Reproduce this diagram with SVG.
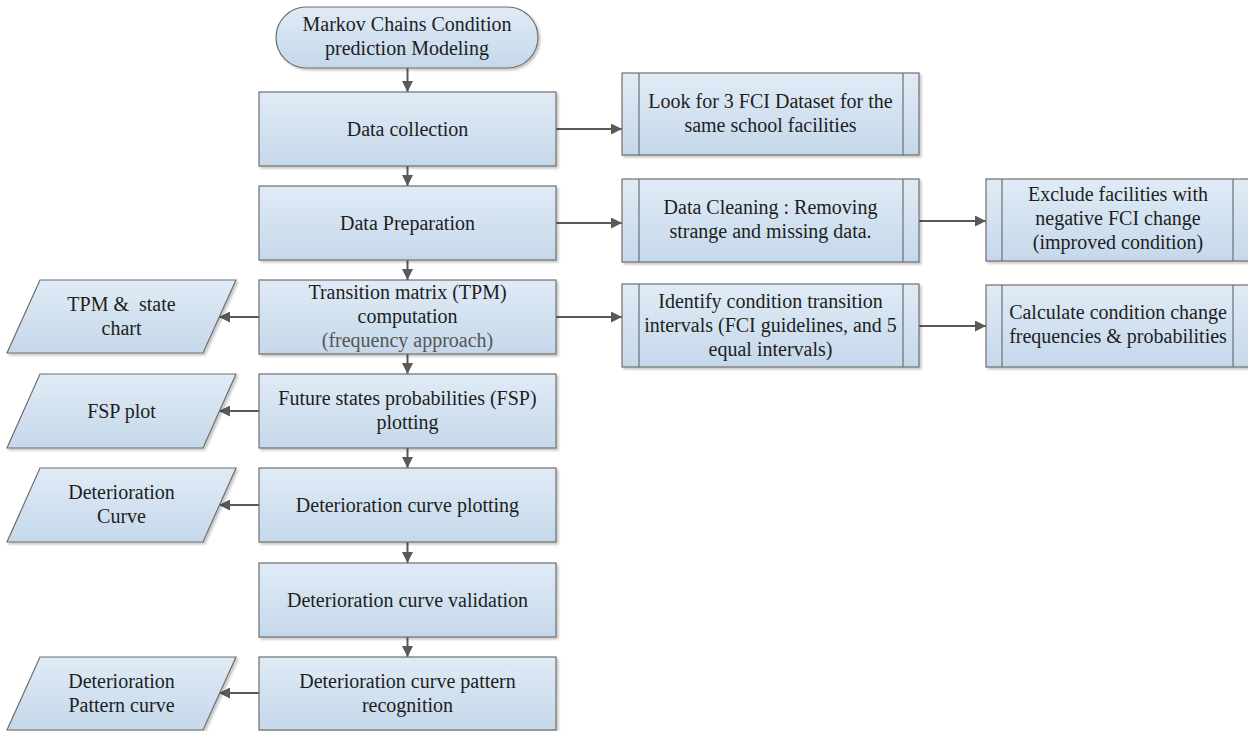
<svg xmlns="http://www.w3.org/2000/svg" width="1248" height="731" viewBox="0 0 1248 731">
<style>
.shape{fill:url(#g);stroke:#6e6e6e;stroke-width:1.2;filter:url(#sh)}
.inner{stroke:#6e6e6e;stroke-width:1.2;fill:none}
text{font-family:'Liberation Serif','Times New Roman','DejaVu Serif',serif;font-size:20px;fill:#1e1e1e;text-anchor:middle}
.grey{fill:#555555}
.c{stroke:#595959;stroke-width:2;fill:none;marker-end:url(#ah)}
</style>
<defs>
<linearGradient id="g" x1="0" y1="0" x2="0" y2="1">
<stop offset="0" stop-color="#e0ebf6"/>
<stop offset="1" stop-color="#c5d8ea"/>
</linearGradient>
<filter id="sh" x="-5%" y="-5%" width="115%" height="130%">
<feDropShadow dx="2" dy="2" stdDeviation="1" flood-color="#000" flood-opacity="0.22"/>
</filter>
<marker id="ah" viewBox="0 0 10 10" refX="10" refY="5" markerWidth="5.5" markerHeight="5.5" markerUnits="strokeWidth" orient="auto">
<path d="M0,0 L10,5 L0,10 z" fill="#595959"/>
</marker>
</defs>
<rect width="1248" height="731" fill="#ffffff"/>

<g id="connectors">
<line class="c" x1="407.5" y1="68" x2="407.5" y2="92"/>
<line class="c" x1="407.5" y1="166" x2="407.5" y2="186"/>
<line class="c" x1="407.5" y1="260" x2="407.5" y2="280"/>
<line class="c" x1="407.5" y1="354" x2="407.5" y2="374"/>
<line class="c" x1="407.5" y1="448" x2="407.5" y2="468"/>
<line class="c" x1="407.5" y1="542" x2="407.5" y2="563"/>
<line class="c" x1="407.5" y1="637" x2="407.5" y2="657"/>
<line class="c" x1="556" y1="129" x2="622" y2="129"/>
<line class="c" x1="556" y1="223" x2="622" y2="223"/>
<line class="c" x1="556" y1="317" x2="622" y2="317"/>
<line class="c" x1="919" y1="221" x2="986" y2="221"/>
<line class="c" x1="919" y1="326" x2="986" y2="326"/>
<line class="c" x1="259" y1="317" x2="219" y2="317"/>
<line class="c" x1="259" y1="411" x2="219" y2="411"/>
<line class="c" x1="259" y1="505" x2="219" y2="505"/>
<line class="c" x1="259" y1="693" x2="219" y2="693"/>
</g>

<g font-family="'Liberation Serif', 'Times New Roman', serif" font-size="20" text-anchor="middle">
<g id="start">
<rect class="shape" x="276" y="7" width="262" height="61" rx="30.5" ry="30.5"/>
<text x="407" y="31">Markov Chains Condition</text>
<text x="407" y="55">prediction Modeling</text>
</g>

<g id="data-collection">
<rect class="shape" x="259" y="92" width="297" height="74"/>
<text x="407.5" y="136">Data collection</text>
</g>

<g id="data-preparation">
<rect class="shape" x="259" y="186" width="297" height="74"/>
<text x="407.5" y="230">Data Preparation</text>
</g>

<g id="tpm">
<rect class="shape" x="259" y="280" width="297" height="74"/>
<text x="407.5" y="299">Transition matrix (TPM)</text>
<text x="407.5" y="323">computation</text>
<text class="grey" x="407.5" y="347">(frequency approach)</text>
</g>

<g id="fsp">
<rect class="shape" x="259" y="374" width="297" height="74"/>
<text x="407.5" y="405">Future states probabilities (FSP)</text>
<text x="407.5" y="429">plotting</text>
</g>

<g id="det-plot">
<rect class="shape" x="259" y="468" width="297" height="74"/>
<text x="407.5" y="512">Deterioration curve plotting</text>
</g>

<g id="det-validation">
<rect class="shape" x="259" y="563" width="297" height="74"/>
<text x="407.5" y="607">Deterioration curve validation</text>
</g>

<g id="det-pattern">
<rect class="shape" x="259" y="657" width="297" height="73"/>
<text x="407.5" y="688">Deterioration curve pattern</text>
<text x="407.5" y="712">recognition</text>
</g>

<g id="out-tpm">
<polygon class="shape" points="40,280 236,280 203,353 7,353"/>
<text x="121.5" y="311" xml:space="preserve">TPM &amp;  state</text>
<text x="121.5" y="335">chart</text>
</g>

<g id="out-fsp">
<polygon class="shape" points="40,374 236,374 203,448 7,448"/>
<text x="121.5" y="418">FSP plot</text>
</g>

<g id="out-curve">
<polygon class="shape" points="40,468 236,468 203,542 7,542"/>
<text x="121.5" y="499">Deterioration</text>
<text x="121.5" y="523">Curve</text>
</g>

<g id="out-pattern">
<polygon class="shape" points="40,657 236,657 203,730 7,730"/>
<text x="121.5" y="688">Deterioration</text>
<text x="121.5" y="712">Pattern curve</text>
</g>

<g id="look-fci">
<rect class="shape" x="622" y="73" width="297" height="82"/>
<line class="inner" x1="639" y1="73" x2="639" y2="155"/>
<line class="inner" x1="903" y1="73" x2="903" y2="155"/>
<text x="770.5" y="108">Look for 3 FCI Dataset for the</text>
<text x="770.5" y="132">same school facilities</text>
</g>

<g id="data-cleaning">
<rect class="shape" x="622" y="179" width="297" height="83"/>
<line class="inner" x1="639" y1="179" x2="639" y2="262"/>
<line class="inner" x1="903" y1="179" x2="903" y2="262"/>
<text x="770.5" y="214">Data Cleaning : Removing</text>
<text x="770.5" y="238">strange and missing data.</text>
</g>

<g id="identify">
<rect class="shape" x="622" y="284" width="297" height="83"/>
<line class="inner" x1="639" y1="284" x2="639" y2="367"/>
<line class="inner" x1="903" y1="284" x2="903" y2="367"/>
<text x="770.5" y="308">Identify condition transition</text>
<text x="770.5" y="332">intervals (FCI guidelines, and 5</text>
<text x="770.5" y="356">equal intervals)</text>
</g>

<g id="exclude">
<rect class="shape" x="986" y="179" width="263" height="82"/>
<line class="inner" x1="1002" y1="179" x2="1002" y2="261"/>
<line class="inner" x1="1233" y1="179" x2="1233" y2="261"/>
<text x="1118" y="201">Exclude facilities with</text>
<text x="1118" y="225">negative FCI change</text>
<text x="1118" y="249">(improved condition)</text>
</g>

<g id="calculate">
<rect class="shape" x="986" y="285" width="263" height="82"/>
<line class="inner" x1="1002" y1="285" x2="1002" y2="367"/>
<line class="inner" x1="1233" y1="285" x2="1233" y2="367"/>
<text x="1118" y="319">Calculate condition change</text>
<text x="1118" y="343">frequencies &amp; probabilities</text>
</g>
</g>
</svg>
